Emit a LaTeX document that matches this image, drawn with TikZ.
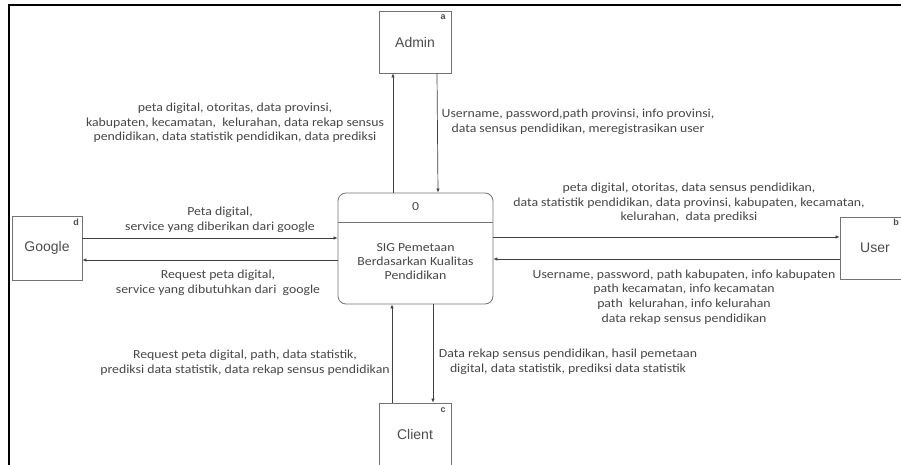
\documentclass[tikz,border=0pt]{standalone}
\usepackage{fontspec}
\setmainfont{Carlito}[FakeStretch=1.12]
\newfontfamily\arialf{Liberation Sans}
\usetikzlibrary{arrows.meta}
\tikzset{
  entity/.style={draw=black!55, line width=0.8pt, minimum width=72pt, minimum height=62pt, inner sep=0pt, font=\arialf\fontsize{14}{16}\selectfont, text=black!70},
  tag/.style={font=\arialf\bfseries\fontsize{9}{10}\selectfont, text=black!70, inner sep=0pt},
  proc/.style={draw=black!55, line width=0.8pt, rounded corners=8pt, minimum width=155pt, minimum height=111pt, inner sep=0pt},
  lbl/.style={align=center, inner sep=0pt, text=black!72, font=\fontsize{12.3}{14.6}\selectfont},
  arr/.style={draw=black!75, line width=0.7pt, -{Latex[length=4pt,width=3.5pt]}},
}
\begin{document}
\begin{tikzpicture}[x=1pt,y=-1pt]
\useasboundingbox (0,0) rectangle (901,465);
% frame
\draw[line width=2.5pt] (9,465) -- (9,5) -- (905,5);
% entities
\node[entity] (admin) at (415,42) {Admin};
\node[tag] (ta) at (443,17) {a};
\node[entity, minimum width=70pt, minimum height=64pt] (google) at (47,248) {Google};
\node[tag] (td) at (76,222) {d};
\node[entity, minimum width=70pt] (user) at (875,248) {User};
\node[tag] (tb) at (896,222) {b};
\node[entity] (client) at (415,434) {Client};
\node[tag] (tc) at (443,410) {c};
% process
\node[proc] (proc) at (415.5,248.5) {};
\draw[draw=black!55, line width=0.8pt] (proc.west |- 0,222) -- (proc.east |- 0,222);
\node[lbl] (pid) at (415.5,207) {0};
\node[lbl, font=\fontsize{12.3}{14}\selectfont] (pname) at (415.5,262) {SIG Pemetaan\\Berdasarkan Kualitas\\Pendidikan};
% admin flows
\draw[arr] ([xshift=-22.5pt]proc.north) -- ([xshift=-22pt]admin.south);
\draw[arr] ([xshift=22pt]admin.south) -- ([xshift=22.5pt]proc.north);
% google flows
\draw[arr] (google.east |- 0,238) -- (proc.west |- 0,238);
\draw[arr] (proc.west |- 0,260) -- (google.east |- 0,260);
% user flows
\draw[arr] (proc.east |- 0,237) -- (user.west |- 0,237);
\draw[arr] (user.west |- 0,259) -- (proc.east |- 0,259);
% client flows
\draw[arr] ([xshift=-23pt]client.north) -- ([xshift=-23.5pt]proc.south);
\draw[arr] ([xshift=17.5pt]proc.south) -- ([xshift=18pt]client.north);
% labels
\node[lbl] (l1) at (235,123) {peta digital, otoritas, data provinsi,\\kabupaten, kecamatan,\ \ kelurahan, data rekap sensus\\pendidikan, data statistik pendidikan, data prediksi};
\node[lbl] (l2) at (578,122) {Username, password,path provinsi, info provinsi,\\data sensus pendidikan, meregistrasikan user};
\node[lbl] (l3) at (220,219.5) {Peta digital,\\service yang diberikan dari google};
\node[lbl] (l4) at (218,283) {Request peta digital,\\service yang dibutuhkan dari\ \ google};
\node[lbl] (l5) at (689,203) {peta digital, otoritas, data sensus pendidikan,\\data statistik pendidikan, data provinsi, kabupaten, kecamatan,\\kelurahan,\ \ data prediksi};
\node[lbl] (l6) at (684,297) {Username, password, path kabupaten, info kabupaten\\path kecamatan, info kecamatan\\path\ \ kelurahan, info kelurahan\\data rekap sensus pendidikan};
\node[lbl] (l7) at (245,363) {Request peta digital, path, data statistik,\\prediksi data statistik, data rekap sensus pendidikan};
\node[lbl] (l8) at (568,362) {Data rekap sensus pendidikan, hasil pemetaan\\digital, data statistik, prediksi data statistik};
\end{tikzpicture}
\end{document}
